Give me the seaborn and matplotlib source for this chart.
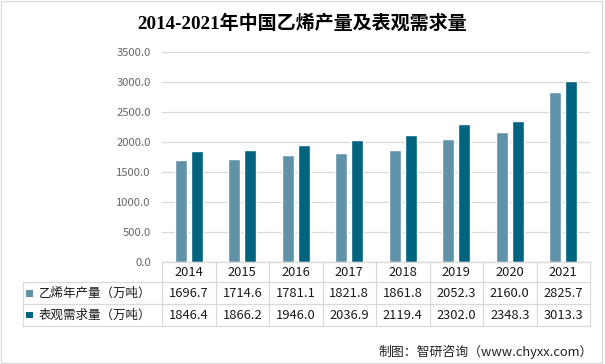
import matplotlib
matplotlib.use("Agg")
import matplotlib.pyplot as plt
from matplotlib.lines import Line2D
from matplotlib.patches import Rectangle
import seaborn as sns
import pandas as pd

years = ['2014', '2015', '2016', '2017', '2018', '2019', '2020', '2021']
production = [1696.7, 1714.6, 1781.1, 1821.8, 1861.8, 2052.3, 2160.0, 2825.7]
demand = [1846.4, 1866.2, 1946.0, 2036.9, 2119.4, 2302.0, 2348.3, 3013.3]
series_names = ['乙烯年产量（万吨）', '表观需求量（万吨）']
title = '2014-2021年中国乙烯产量及表观需求量'
source = '制图：智研咨询（www.chyxx.com）'
yticks = [0, 500, 1000, 1500, 2000, 2500, 3000, 3500]

colors = ['#6093A8', '#00637F']
grid_c = '#D9D9D9'

sns.set_theme(style='white')
plt.rcParams['font.family'] = ['Noto Sans CJK SC', 'DejaVu Sans']

W, H = 605, 364
fig = plt.figure(figsize=(W / 100, H / 100), dpi=100)

def fx(x):
    return x / W

def fy(y):
    return 1 - y / H

ax_l, ax_r, ax_b, ax_t = 162, 590, 262, 51.7
ax = fig.add_axes([fx(ax_l), fy(ax_b), (ax_r - ax_l) / W, (ax_b - ax_t) / H])

df = pd.DataFrame({
    'year': years * 2,
    'series': [series_names[0]] * len(years) + [series_names[1]] * len(years),
    'value': production + demand,
})
sns.barplot(data=df, x='year', y='value', hue='series', palette=colors,
            width=0.6, gap=0.25, ax=ax, legend=False, saturation=1)

ax.set_ylim(0, 3500)
ax.set_xlim(-0.5, len(years) - 0.5)
ax.set_yticks(yticks)
ax.set_yticklabels([f'{v:.1f}' for v in yticks], fontsize=8.1, color='#666666')
ax.tick_params(axis='y', length=0, pad=8)
ax.tick_params(axis='x', length=0, labelbottom=False)
ax.set_xlabel('')
ax.set_ylabel('')
ax.yaxis.grid(True, color=grid_c, linewidth=0.9)
ax.set_axisbelow(True)
for s in ['top', 'right', 'left']:
    ax.spines[s].set_visible(False)
ax.spines['bottom'].set_color(grid_c)
ax.spines['bottom'].set_linewidth(0.9)

# data table below the axis
ph = ax_b - ax_t
def ay(y):
    return (ax_b - y) / ph

row_lines = [282.3, 304.3, 326]
xt = ax.get_xaxis_transform()
for i in range(len(years) + 1):
    ax.add_line(Line2D([i - 0.5, i - 0.5], [0, ay(row_lines[-1])], transform=xt,
                       color=grid_c, lw=0.9, clip_on=False))
for y in row_lines:
    fig.add_artist(Line2D([fx(23), fx(ax_r)], [fy(y), fy(y)], transform=fig.transFigure,
                          color=grid_c, lw=0.9))
fig.add_artist(Line2D([fx(23), fx(23)], [fy(row_lines[0]), fy(row_lines[-1])],
                      transform=fig.transFigure, color=grid_c, lw=0.9))

tc = '#1a1a1a'
fs = 9.3
for i, yr in enumerate(years):
    ax.text(i, ay(272.3), yr, transform=xt, ha='center', va='center', fontsize=fs, color=tc)
    ax.text(i, ay(293.3), f'{production[i]:.1f}', transform=xt, ha='center', va='center',
            fontsize=fs, color=tc)
    ax.text(i, ay(315.2), f'{demand[i]:.1f}', transform=xt, ha='center', va='center',
            fontsize=fs, color=tc)

for k, (name, yc) in enumerate(zip(series_names, [293.3, 315.2])):
    fig.add_artist(Rectangle((fx(26), fy(yc + 3.2)), 6.5 / W, 6.5 / H, transform=fig.transFigure,
                             facecolor=colors[k], edgecolor='none'))
    fig.text(fx(38.5), fy(yc), name, ha='left', va='center', fontsize=9.0, color=tc)

fig.text(0.5, fy(23.3), title, ha='center', va='center', fontsize=13.7, fontweight='bold',
         family=['Liberation Serif', 'Noto Sans CJK SC'], color='black')
fig.text(fx(593), fy(351.7), source, ha='right', va='center', fontsize=9.3, color='#222222')

fig.add_artist(Rectangle((fx(1), fy(362.5)), 601 / W, 361.5 / H, transform=fig.transFigure,
                         facecolor='none', edgecolor='#D9D9D9', lw=0.9))

fig.savefig('out.png', dpi=100)
